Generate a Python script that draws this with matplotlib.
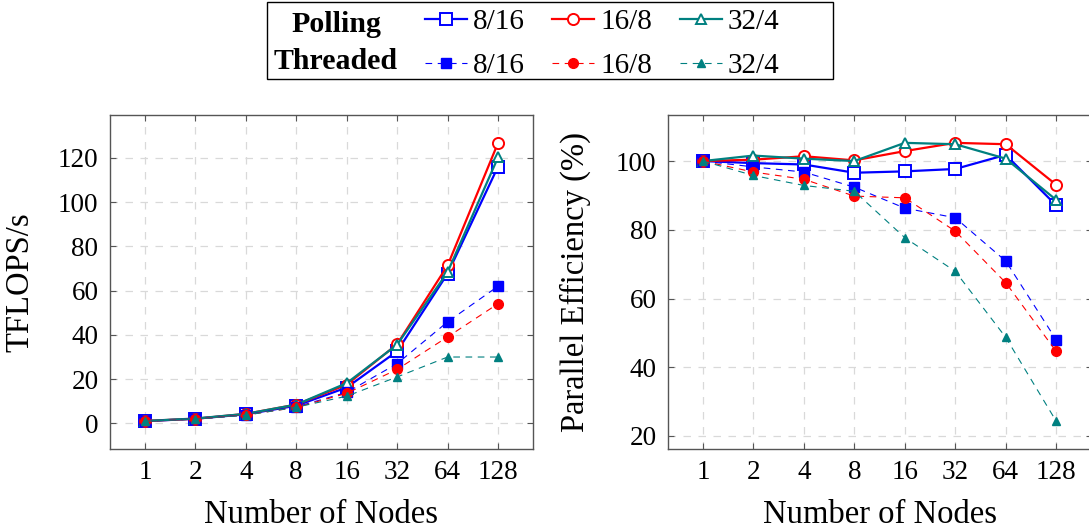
import numpy as np
import matplotlib
matplotlib.use('Agg')
import matplotlib.pyplot as plt
from matplotlib.patches import Rectangle

plt.rcParams['font.family'] = ['Liberation Serif', 'DejaVu Serif']

nodes = [1, 2, 4, 8, 16, 32, 64, 128]
configs = ['8/16', '16/8', '32/4']

# TFLOPS/s
poll_tflops = {
    '8/16': [1.0, 2.1, 4.1, 8.0, 16.2, 32.6, 67.7, 116.1],
    '16/8': [1.1, 2.1, 4.3, 8.5, 17.5, 35.8, 71.4, 126.8],
    '32/4': [1.1, 2.2, 4.3, 8.5, 18.2, 35.6, 68.4, 120.3],
}
thr_tflops = {
    '8/16': [1.0, 2.0, 3.9, 7.5, 14.0, 27.0, 45.9, 62.0],
    '16/8': [1.0, 2.0, 3.8, 7.2, 13.6, 24.4, 39.1, 54.1],
    '32/4': [1.0, 1.9, 3.7, 7.3, 12.3, 21.0, 30.0, 30.0],
}

# parallel efficiency (%)
poll_eff = {
    '8/16': [100, 99.4, 99.0, 96.6, 97.0, 97.7, 101.8, 87.1],
    '16/8': [100, 100.4, 101.4, 100.2, 102.9, 105.3, 104.9, 93.1],
    '32/4': [100, 101.6, 100.7, 100.0, 105.3, 104.9, 100.7, 88.7],
}
thr_eff = {
    '8/16': [100, 98.3, 96.8, 92.4, 86.3, 83.5, 70.9, 48.0],
    '16/8': [100, 96.8, 94.7, 89.8, 89.3, 79.6, 64.6, 44.6],
    '32/4': [100, 95.8, 92.9, 91.2, 77.7, 67.9, 48.7, 24.3],
}

colors = {'8/16': '#0000ff', '16/8': '#ff0000', '32/4': '#008080'}
markers = {'8/16': 's', '16/8': 'o', '32/4': '^'}
open_size = {'8/16': 8, '16/8': 8, '32/4': 7.5}
fill_size = {'8/16': 7, '16/8': 7, '32/4': 5.5}

xpos = np.log2(nodes)

fig = plt.figure(figsize=(10.89, 5.31), dpi=100)
ax1 = fig.add_axes([0.1006, 0.1544, 0.3892, 0.629])
ax2 = fig.add_axes([0.6131, 0.1544, 0.3892, 0.629])


def draw(ax, poll, thr):
    handles = []
    for c in configs:
        h, = ax.plot(xpos, poll[c], color=colors[c], lw=1.6, marker=markers[c],
                     ms=open_size[c], mfc='white', mec=colors[c], mew=1.4, label=c)
        handles.append(h)
    for c in configs:
        h, = ax.plot(xpos, thr[c], color=colors[c], lw=0.8, ls=(0, (6, 5)),
                     marker=markers[c], ms=fill_size[c], mfc=colors[c], mec=colors[c],
                     label=c)
        handles.append(h)
    allv = np.concatenate([np.array(v) for v in list(poll.values()) + list(thr.values())])
    lo, hi = allv.min(), allv.max()
    pad = 0.1 * (hi - lo)
    ax.set_ylim(lo - pad, hi + pad)
    ax.set_xlim(xpos[0] - 0.1 * (xpos[-1] - xpos[0]), xpos[-1] + 0.1 * (xpos[-1] - xpos[0]))
    ax.set_xticks(xpos)
    ax.set_xticklabels([str(n) for n in nodes])
    ax.grid(True, color='#d9d9d9', ls=(0, (6, 6)), lw=0.9)
    ax.set_axisbelow(True)
    ax.tick_params(direction='in', top=True, right=True, length=4.5, width=0.8,
                   color='#555555', labelsize=19.5, pad=8)
    for s in ax.spines.values():
        s.set_color('#555555')
        s.set_linewidth(1.0)
    ax.set_xlabel('Number of Nodes', fontsize=23.5, va='baseline')
    ax.xaxis.set_label_coords(0.5, -0.2216)
    return handles


handles = draw(ax1, poll_tflops, thr_tflops)
ax1.set_yticks([0, 20, 40, 60, 80, 100, 120])
ax1.set_ylabel('TFLOPS/s', fontsize=23.5, va='center')
ax1.yaxis.set_label_coords(-0.212, 0.5)

draw(ax2, poll_eff, thr_eff)
ax2.set_yticks([20, 40, 60, 80, 100])
ax2.set_ylabel('Parallel Efficiency (%)', fontsize=23.5, va='center')
ax2.yaxis.set_label_coords(-0.218, 0.5)

# legend: two rows (Polling / Threaded) x three configs
order = [handles[0], handles[3], handles[1], handles[4], handles[2], handles[5]]
fig.legend(order, [h.get_label() for h in order], ncol=3, loc='upper left',
           bbox_to_anchor=(425 / 1089, 1 - 9 / 531), frameon=False, fontsize=21,
           handlelength=1.44, handletextpad=0.2, columnspacing=0.95,
           labelspacing=0.6, borderpad=0, borderaxespad=0)
fig.text(336 / 1089, 1 - 32 / 531, 'Polling', ha='center', va='baseline',
         fontsize=21.5, fontweight='bold')
fig.text(336 / 1089, 1 - 69 / 531, 'Threaded', ha='center', va='baseline',
         fontsize=21.5, fontweight='bold')
fig.add_artist(Rectangle((267 / 1089, 1 - 79 / 531), 566 / 1089, 77 / 531,
                         transform=fig.transFigure, fill=False, edgecolor='black', lw=1.0))

fig.savefig('out.png', dpi=100)
